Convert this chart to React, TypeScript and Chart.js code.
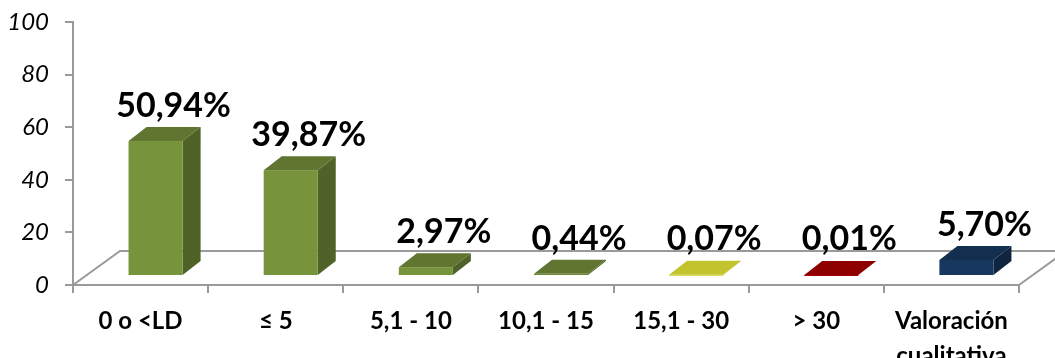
import React, { useEffect, useRef } from 'react';
import { Chart, registerables } from 'chart.js';

Chart.register(...registerables);

// ---- Data ----
const categories: (string | string[])[] = [
  '0 o <LD',
  '≤ 5',
  '5,1 - 10',
  '10,1 - 15',
  '15,1 - 30',
  '> 30',
  ['Valoración', 'cualitativa'],
];
const values = [50.94, 39.87, 2.97, 0.44, 0.07, 0.01, 5.7];
const yTickMin = 0;
const yTickMax = 100;
const yTickStep = 20;

// ---- Styles ----
const frontColors = ['#77933C', '#77933C', '#77933C', '#6C8735', '#D2D23A', '#A00000', '#17375E'];
const topColors = ['#5F7530', '#5F7530', '#5F7530', '#5F7530', '#C3C32E', '#8E0000', '#132F50'];
const sideColors = ['#4F6228', '#4F6228', '#4F6228', '#4F6228', '#A3A322', '#700000', '#0F243E'];

const FLOOR_DX = 47;
const FLOOR_DY = -34;
const BAR_DX = 15;
const BAR_DY = -10;
const DEPTH_DX = 18;
const DEPTH_DY = -14;
const LABEL_DX = 18;
const LABEL_GAP = 10;
const GRAY = '#9A9A9A';
const FONT = 'Lato, "Open Sans", sans-serif';

const fmt = (v: number) => v.toFixed(2).replace('.', ',') + '%';

const floorPlugin = {
  id: 'floor3d',
  beforeDatasetsDraw(chart: any) {
    const { ctx, chartArea } = chart;
    const { left, right, bottom } = chartArea;
    ctx.save();
    ctx.strokeStyle = GRAY;
    ctx.lineWidth = 2;
    ctx.beginPath();
    ctx.moveTo(left, bottom);
    ctx.lineTo(left + FLOOR_DX, bottom + FLOOR_DY);
    ctx.lineTo(right + FLOOR_DX, bottom + FLOOR_DY);
    ctx.moveTo(right, bottom);
    ctx.lineTo(right + FLOOR_DX, bottom + FLOOR_DY);
    ctx.stroke();
    ctx.restore();
  },
};

const bars3dPlugin = {
  id: 'bars3d',
  afterDatasetsDraw(chart: any) {
    const { ctx } = chart;
    const meta = chart.getDatasetMeta(0);
    const yScale = chart.scales.y;
    const base = yScale.getPixelForValue(0);
    ctx.save();
    meta.data.forEach((el: any, i: number) => {
      const { x, y, width } = el.getProps(['x', 'y', 'width'], true);
      const x0 = x - width / 2 + BAR_DX;
      const x1 = x + width / 2 + BAR_DX;
      const yb = base + BAR_DY;
      const yt = y + BAR_DY;
      // side
      ctx.fillStyle = sideColors[i];
      ctx.beginPath();
      ctx.moveTo(x1, yt);
      ctx.lineTo(x1 + DEPTH_DX, yt + DEPTH_DY);
      ctx.lineTo(x1 + DEPTH_DX, yb + DEPTH_DY);
      ctx.lineTo(x1, yb);
      ctx.closePath();
      ctx.fill();
      // top
      ctx.fillStyle = topColors[i];
      ctx.beginPath();
      ctx.moveTo(x0, yt);
      ctx.lineTo(x1, yt);
      ctx.lineTo(x1 + DEPTH_DX, yt + DEPTH_DY);
      ctx.lineTo(x0 + DEPTH_DX, yt + DEPTH_DY);
      ctx.closePath();
      ctx.fill();
      // front
      ctx.fillStyle = frontColors[i];
      ctx.fillRect(x0, yt, x1 - x0, Math.max(yb - yt, 1));
    });
    // labels
    ctx.fillStyle = '#000';
    ctx.font = `bold 34px ${FONT}`;
    ctx.textAlign = 'center';
    ctx.textBaseline = 'alphabetic';
    meta.data.forEach((el: any, i: number) => {
      const { x, y } = el.getProps(['x', 'y'], true);
      const cx = x + BAR_DX + LABEL_DX;
      const ty = Math.min(y, base - 1) + BAR_DY + DEPTH_DY - LABEL_GAP;
      ctx.fillText(fmt(values[i]), cx, ty);
    });
    ctx.restore();
  },
};

export default function App() {
  const ref = useRef<HTMLCanvasElement | null>(null);
  useEffect(() => {
    if (!ref.current) return;
    const chart = new Chart(ref.current, {
      type: 'bar',
      data: {
        labels: categories as any,
        datasets: [
          {
            data: values,
            backgroundColor: 'rgba(0,0,0,0)',
            borderWidth: 0,
            categoryPercentage: 1,
            barPercentage: 0.4,
          },
        ],
      },
      options: {
        responsive: false,
        animation: false,
        events: [],
        layout: { padding: { top: 22, right: 36, left: 0, bottom: 0 } },
        plugins: { legend: { display: false }, tooltip: { enabled: false } },
        scales: {
          x: {
            type: 'category',
            offset: true,
            grid: {
              offset: true,
              drawOnChartArea: false,
              drawTicks: true,
              tickLength: 8,
              color: GRAY,
              lineWidth: 2,
            },
            border: { display: true, color: GRAY, width: 2 },
            ticks: {
              color: '#000',
              font: { family: FONT, size: 24, weight: 'bold', lineHeight: 1.45 },
              padding: 11,
              maxRotation: 0,
              autoSkip: false,
            },
            afterFit: (scale: any) => {
              scale.height = 73;
            },
          },
          y: {
            min: yTickMin,
            max: yTickMax,
            grid: {
              drawOnChartArea: false,
              drawTicks: true,
              tickLength: 8,
              color: GRAY,
              lineWidth: 2,
            },
            border: { display: true, color: GRAY, width: 2 },
            ticks: {
              stepSize: yTickStep,
              color: '#000',
              font: { family: FONT, size: 24, style: 'italic' },
              padding: 16,
            },
            afterFit: (scale: any) => {
              scale.width = 73;
              scale.paddingTop = 0;
              scale.paddingBottom = 0;
            },
          },
        },
      },
      plugins: [floorPlugin, bars3dPlugin],
    });
    return () => chart.destroy();
  }, []);
  return (
    <div
      style={{
        position: 'absolute',
        left: 0,
        top: 0,
        width: 1055,
        height: 358,
        overflow: 'hidden',
        background: '#fff',
      }}
    >
      <canvas ref={ref} width={1055} height={358} style={{ display: 'block' }} />
    </div>
  );
}
